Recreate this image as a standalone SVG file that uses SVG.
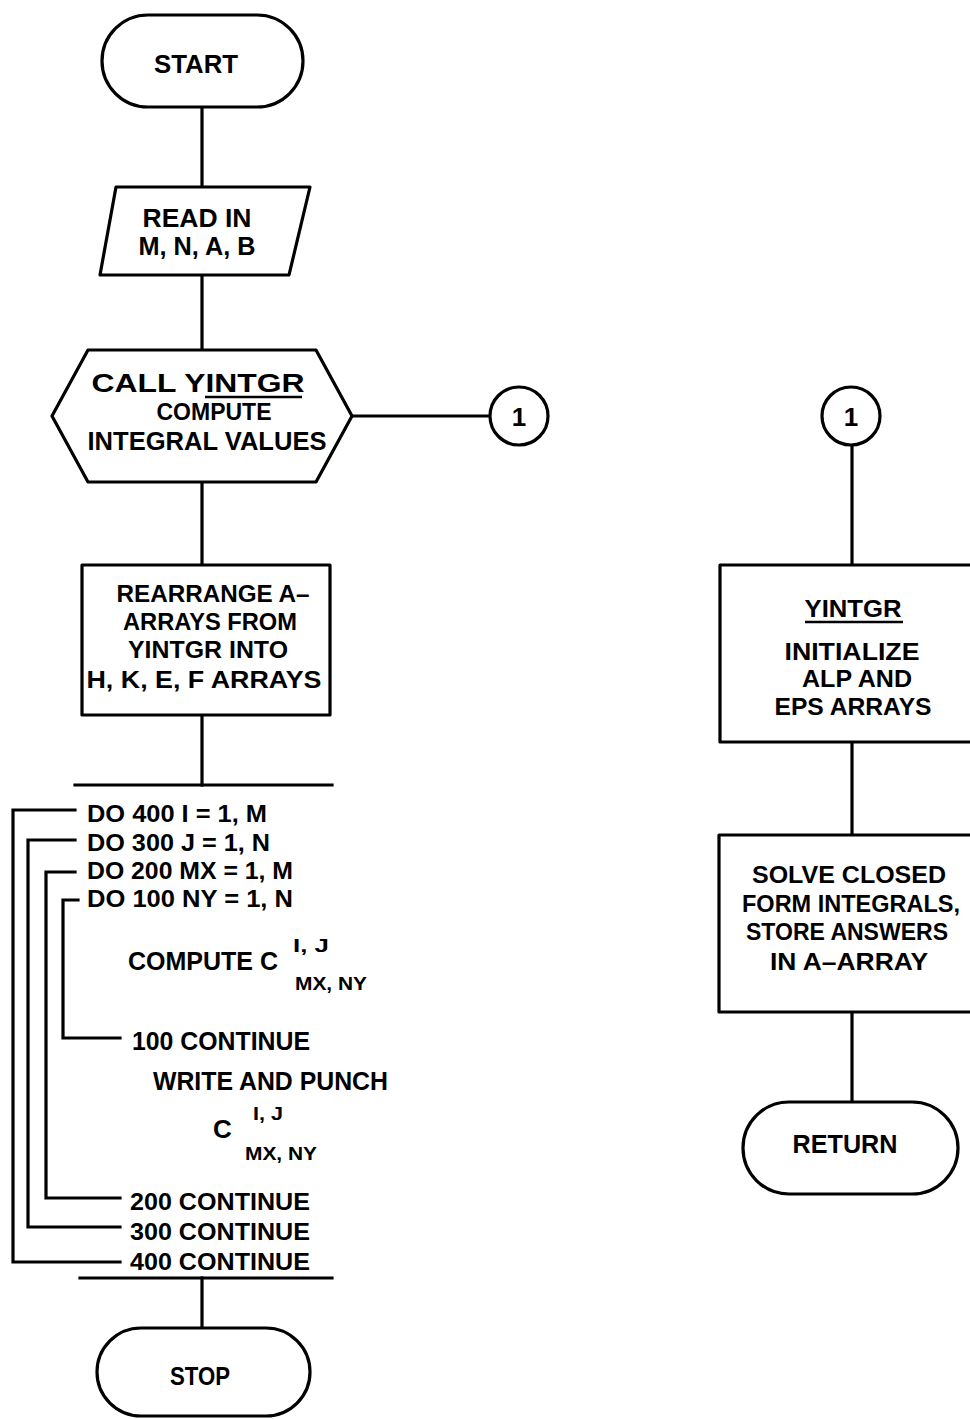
<svg xmlns="http://www.w3.org/2000/svg" width="970" height="1419" viewBox="0 0 970 1419">
<style>
.s{fill:#fff;stroke:#000;stroke-width:3.2;stroke-linejoin:round}
.c line,.c polyline{stroke:#000;stroke-width:3.2;fill:none;stroke-linecap:square}
.t{font-family:"Liberation Sans",Arial,sans-serif;font-weight:bold;font-size:26px;fill:#000;text-anchor:middle}
.l{font-family:"Liberation Sans",Arial,sans-serif;font-weight:bold;font-size:26px;fill:#000;text-anchor:start}
.k{font-size:24px}
.sm{font-size:18px}
.ul{stroke:#000;stroke-width:2.5}
</style>
<rect width="970" height="1419" fill="#fff"/>
<g class="c" id="connectors">
<line x1="202" y1="107" x2="202" y2="187"/>
<line x1="202" y1="275" x2="202" y2="350"/>
<line x1="352" y1="416" x2="490" y2="416"/>
<line x1="202" y1="482" x2="202" y2="565"/>
<line x1="202" y1="715" x2="202" y2="785"/>
<line x1="75" y1="785" x2="332" y2="785"/>
<polyline points="75,810 13,810 13,1262 120,1262"/>
<polyline points="75,840 28,840 28,1227 120,1227"/>
<polyline points="75,872 46,872 46,1198 120,1198"/>
<polyline points="78,900 63,900 63,1038 120,1038"/>
<line x1="80" y1="1278" x2="332" y2="1278"/>
<line x1="202" y1="1278" x2="202" y2="1328"/>
<line x1="852" y1="445" x2="852" y2="565"/>
<line x1="852" y1="742" x2="852" y2="835"/>
<line x1="852" y1="1012" x2="852" y2="1102"/>
</g>
<g id="start">
<rect class="s" x="102" y="15" width="201" height="92" rx="46"/>
<text class="t" x="196" y="73" textLength="84" lengthAdjust="spacingAndGlyphs">START</text>
</g>
<g id="read">
<polygon class="s" points="116,187 310,187 289,275 100,275"/>
<text class="t" x="197" y="227" textLength="109" lengthAdjust="spacingAndGlyphs">READ IN</text>
<text class="t" x="197" y="255" textLength="117" lengthAdjust="spacingAndGlyphs">M, N, A, B</text>
</g>
<g id="call">
<polygon class="s" points="88,350 316,350 352,416 316,482 88,482 52,416"/>
<text class="t" x="198" y="392" textLength="213" lengthAdjust="spacingAndGlyphs">CALL YINTGR</text>
<line class="ul" x1="205" y1="397" x2="302" y2="397"/>
<text class="t k" x="214" y="420" textLength="115" lengthAdjust="spacingAndGlyphs">COMPUTE</text>
<text class="t" x="207" y="450" textLength="239" lengthAdjust="spacingAndGlyphs">INTEGRAL VALUES</text>
</g>
<g id="conn1a">
<circle class="s" cx="519" cy="416" r="29"/>
<text class="t" x="519" y="426">1</text>
</g>
<g id="rearrange">
<rect class="s" x="82" y="565" width="248" height="150"/>
<text class="t k" x="213" y="602" textLength="193" lengthAdjust="spacingAndGlyphs">REARRANGE A–</text>
<text class="t k" x="210" y="630" textLength="174" lengthAdjust="spacingAndGlyphs">ARRAYS FROM</text>
<text class="t k" x="208" y="658" textLength="160" lengthAdjust="spacingAndGlyphs">YINTGR INTO</text>
<text class="t k" x="204" y="688" textLength="235" lengthAdjust="spacingAndGlyphs">H, K, E, F ARRAYS</text>
</g>
<g id="loop">
<text class="l k" x="87" y="822" textLength="180" lengthAdjust="spacingAndGlyphs">DO 400 I = 1, M</text>
<text class="l k" x="87" y="851" textLength="183" lengthAdjust="spacingAndGlyphs">DO 300 J = 1, N</text>
<text class="l k" x="87" y="879" textLength="206" lengthAdjust="spacingAndGlyphs">DO 200 MX = 1, M</text>
<text class="l k" x="87" y="907" textLength="206" lengthAdjust="spacingAndGlyphs">DO 100 NY = 1, N</text>
<text class="l" x="128" y="970" textLength="150" lengthAdjust="spacingAndGlyphs">COMPUTE C</text>
<text class="l sm" x="293" y="952" textLength="36" lengthAdjust="spacingAndGlyphs">I, J</text>
<text class="l sm" x="295" y="990" textLength="72" lengthAdjust="spacingAndGlyphs">MX, NY</text>
<text class="l" x="132" y="1050" textLength="178" lengthAdjust="spacingAndGlyphs">100 CONTINUE</text>
<text class="l" x="153" y="1090" textLength="235" lengthAdjust="spacingAndGlyphs">WRITE AND PUNCH</text>
<text class="l" x="213" y="1138">C</text>
<text class="l sm" x="253" y="1120" textLength="30" lengthAdjust="spacingAndGlyphs">I, J</text>
<text class="l sm" x="245" y="1160" textLength="72" lengthAdjust="spacingAndGlyphs">MX, NY</text>
<text class="l k" x="130" y="1210" textLength="180" lengthAdjust="spacingAndGlyphs">200 CONTINUE</text>
<text class="l k" x="130" y="1240" textLength="180" lengthAdjust="spacingAndGlyphs">300 CONTINUE</text>
<text class="l k" x="130" y="1270" textLength="180" lengthAdjust="spacingAndGlyphs">400 CONTINUE</text>
</g>
<g id="stop">
<rect class="s" x="97" y="1328" width="213" height="88" rx="44"/>
<text class="t" x="200" y="1385" textLength="60" lengthAdjust="spacingAndGlyphs">STOP</text>
</g>
<g id="conn1b">
<circle class="s" cx="851" cy="416" r="29"/>
<text class="t" x="851" y="426">1</text>
</g>
<g id="yintgr">
<rect class="s" x="720" y="565" width="266" height="177"/>
<text class="t k" x="853" y="617" textLength="97" lengthAdjust="spacingAndGlyphs">YINTGR</text>
<line class="ul" x1="805" y1="622" x2="903" y2="622"/>
<text class="t k" x="852" y="660" textLength="135" lengthAdjust="spacingAndGlyphs">INITIALIZE</text>
<text class="t k" x="857" y="687" textLength="110" lengthAdjust="spacingAndGlyphs">ALP AND</text>
<text class="t k" x="853" y="715" textLength="157" lengthAdjust="spacingAndGlyphs">EPS ARRAYS</text>
</g>
<g id="solve">
<rect class="s" x="719" y="835" width="267" height="177"/>
<text class="t k" x="849" y="883" textLength="194" lengthAdjust="spacingAndGlyphs">SOLVE CLOSED</text>
<text class="t k" x="851" y="912" textLength="218" lengthAdjust="spacingAndGlyphs">FORM INTEGRALS,</text>
<text class="t k" x="847" y="940" textLength="202" lengthAdjust="spacingAndGlyphs">STORE ANSWERS</text>
<text class="t k" x="849" y="970" textLength="158" lengthAdjust="spacingAndGlyphs">IN A–ARRAY</text>
</g>
<g id="return">
<rect class="s" x="743" y="1102" width="215" height="92" rx="46"/>
<text class="t" x="845" y="1153" textLength="105" lengthAdjust="spacingAndGlyphs">RETURN</text>
</g>
</svg>
